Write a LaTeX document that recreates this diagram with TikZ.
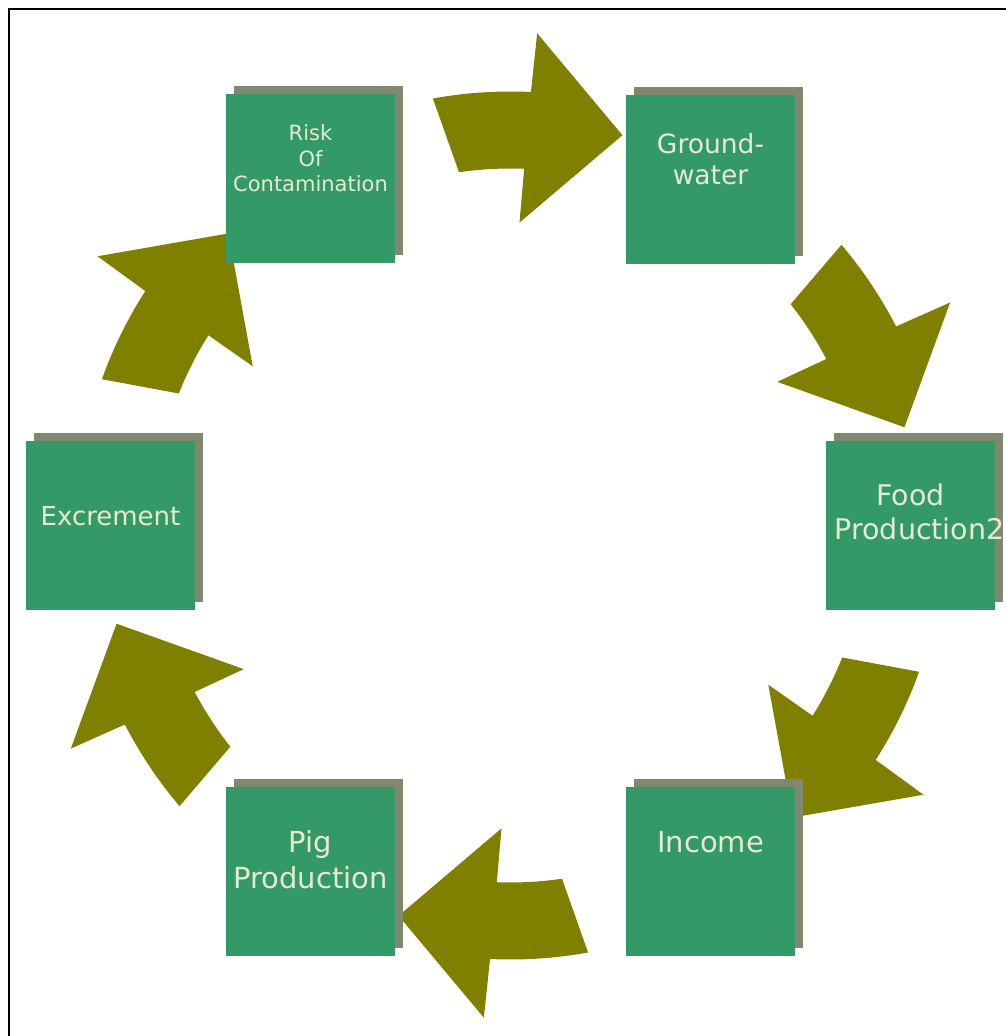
\documentclass[tikz,border=0pt]{standalone}
\usepackage{fontspec}
\setmainfont{DejaVu Sans}
\usetikzlibrary{shadows}

\definecolor{boxgreen}{RGB}{51,153,102}
\definecolor{shadowgray}{RGB}{128,136,112}
\definecolor{arrowolive}{RGB}{128,128,0}
\definecolor{textcream}{RGB}{232,232,214}

\begin{document}
\begin{tikzpicture}[
    x=1pt, y=1pt,
    stage/.style={fill=boxgreen, minimum size=169pt, inner sep=0pt,
        general shadow={fill=shadowgray, shadow xshift=8pt, shadow yshift=8pt}},
    stagetext/.style={text=textcream, align=center, anchor=base, inner sep=0pt},
    cyclearrow/.style={fill=arrowolive}
]
\useasboundingbox (0,0) rectangle (1005,1036);

% frame
\draw[line width=2pt] (9,1027) rectangle (1030,-30);

% arrows, one between each pair of stages
\coordinate (C) at (510.5,510.5);
\begin{scope}[shift={(C)}]
\foreach \m in {90,30,-30,-90,-150,150}
  \fill[cyclearrow] (\m+10.3:434) -- (\m+8.3:357)
    arc[start angle=\m+8.3, end angle=\m-2.2, radius=357]
    -- (\m-1.7:303) -- (\m-16:406) -- (\m-3.1:493) -- (\m-2.7:434)
    arc[start angle=\m-2.7, end angle=\m+10.3, radius=434] -- cycle;
\end{scope}

% stages
\node[stage] (risk)   at (310.5,857.5) {};
\node[stage] (ground) at (710.5,856.5) {};
\node[stage] (food)   at (910.5,510.5) {};
\node[stage] (income) at (710.5,164) {};
\node[stage] (pig)    at (310.5,164) {};
\node[stage] (excr)   at (110.5,510.5) {};

% texts (base = last line)
\node[stagetext, font=\fontsize{21}{25.5}\selectfont] (risktxt)
  at ([yshift=-98pt]risk.north) {Risk\\Of\\Contamination};
\node[stagetext, font=\fontsize{26.5}{31}\selectfont] (groundtxt)
  at ([yshift=-90pt]ground.north) {Ground-\\water};
\node[stagetext, font=\fontsize{28.5}{34}\selectfont] (foodtxt)
  at ([yshift=-99pt]food.north) {Food\\Production\rlap{2}};
\node[stagetext, font=\fontsize{29}{36}\selectfont] (incometxt)
  at ([yshift=-65pt]income.north) {Income};
\node[stagetext, font=\fontsize{29}{36}\selectfont] (pigtxt)
  at ([yshift=-101pt]pig.north) {Pig\\Production};
\node[stagetext, font=\fontsize{26}{31}\selectfont] (excrtxt)
  at ([yshift=-85pt]excr.north) {Excrement};

\end{tikzpicture}
\end{document}
